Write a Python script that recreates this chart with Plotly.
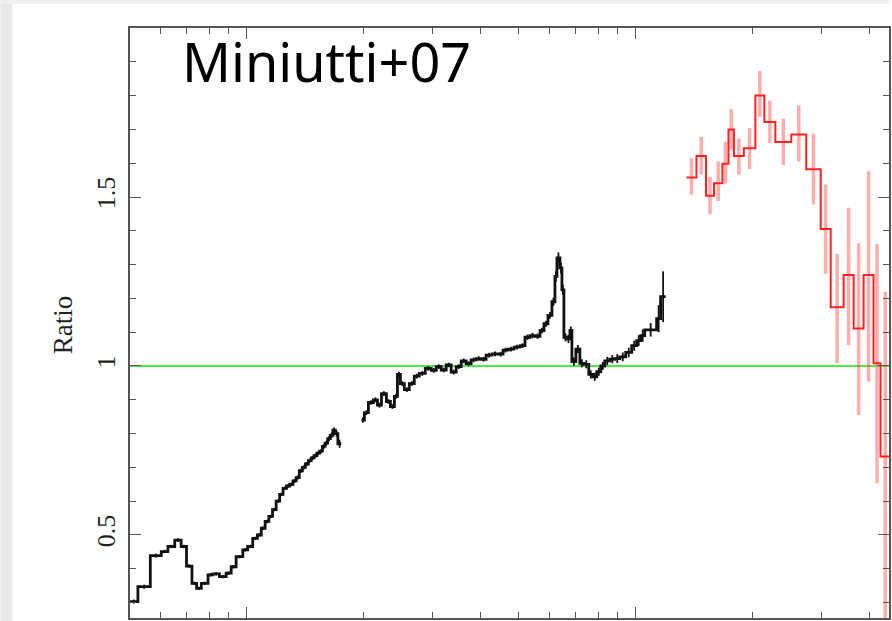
import math
import plotly.graph_objects as go

# ---------------- data ----------------
# XIS (black) segment 1: bin edges in keV and ratio values
seg1_edges = [0.50, 0.525, 0.565, 0.603, 0.627, 0.653, 0.678, 0.70, 0.723, 0.743,
              0.764, 0.795, 0.818, 0.851, 0.885, 0.912, 0.939, 0.977, 1.005, 1.036,
              1.065, 1.09, 1.115, 1.14, 1.165, 1.19, 1.215, 1.24, 1.265, 1.29,
              1.315, 1.34, 1.365, 1.39, 1.415, 1.44, 1.465, 1.49, 1.515, 1.54,
              1.565, 1.59, 1.615, 1.64, 1.665, 1.69, 1.715, 1.75]
seg1_ratio = [0.303, 0.347, 0.439, 0.451, 0.466, 0.485, 0.466, 0.408, 0.357, 0.342,
              0.357, 0.382, 0.385, 0.377, 0.387, 0.406, 0.436, 0.456, 0.466, 0.49,
              0.50, 0.52, 0.54, 0.555, 0.575, 0.60, 0.62, 0.638, 0.645, 0.65,
              0.66, 0.67, 0.69, 0.70, 0.71, 0.72, 0.728, 0.735, 0.742, 0.748,
              0.762, 0.772, 0.785, 0.795, 0.81, 0.80, 0.77]
seg1_err = [0.006, 0.006, 0.006, 0.005, 0.005, 0.005, 0.005, 0.005, 0.005, 0.005,
            0.005, 0.005, 0.005, 0.005, 0.005, 0.005, 0.005, 0.005, 0.005, 0.005,
            0.005, 0.005, 0.005, 0.005, 0.005, 0.005, 0.005, 0.005, 0.005, 0.005,
            0.006, 0.006, 0.006, 0.006, 0.006, 0.006, 0.006, 0.006, 0.006, 0.006,
            0.007, 0.007, 0.007, 0.008, 0.008, 0.009, 0.012]

# XIS (black) segment 2
seg2_edges = [1.972, 2.007, 2.055, 2.117, 2.168, 2.220, 2.286, 2.341, 2.397, 2.440,
              2.483, 2.542, 2.618, 2.696, 2.777, 2.877, 2.981, 3.070, 3.162, 3.257,
              3.354, 3.455, 3.559, 3.665, 3.775, 3.889, 4.005, 4.125, 4.274, 4.428,
              4.561, 4.697, 4.867, 5.042, 5.193, 5.350, 5.510, 5.675, 5.811, 5.949,
              6.091, 6.200, 6.274, 6.386, 6.462, 6.538, 6.655, 6.774, 6.855, 7.018,
              7.185, 7.356, 7.576, 7.757, 7.943, 8.133, 8.326, 8.577, 8.835, 9.100,
              9.427, 9.766, 10.06, 10.30, 10.55, 11.32, 11.59, 11.94]
seg2_ratio = [0.84, 0.862, 0.892, 0.90, 0.884, 0.918, 0.895, 0.88, 0.91, 0.975,
              0.948, 0.93, 0.948, 0.97, 0.978, 0.993, 0.987, 0.998, 0.988, 1.003,
              0.982, 0.998, 1.015, 1.007, 1.018, 1.022, 1.02, 1.032, 1.036, 1.035,
              1.047, 1.05, 1.056, 1.06, 1.085, 1.09, 1.088, 1.105, 1.125, 1.15,
              1.19, 1.265, 1.32, 1.29, 1.225, 1.085, 1.08, 1.105, 1.013, 1.05,
              1.008, 1.005, 0.975, 0.968, 0.983, 1.0, 1.015, 1.02, 1.022, 1.027,
              1.04, 1.06, 1.075, 1.09, 1.107, 1.14, 1.205]
seg2_err = [0.008, 0.007, 0.007, 0.007, 0.007, 0.007, 0.007, 0.007, 0.007, 0.008,
            0.007, 0.007, 0.007, 0.007, 0.007, 0.007, 0.007, 0.007, 0.007, 0.007,
            0.007, 0.007, 0.007, 0.007, 0.007, 0.007, 0.007, 0.007, 0.007, 0.007,
            0.007, 0.007, 0.007, 0.007, 0.008, 0.008, 0.008, 0.008, 0.009, 0.01,
            0.012, 0.015, 0.016, 0.016, 0.015, 0.012, 0.012, 0.012, 0.012, 0.012,
            0.012, 0.012, 0.012, 0.012, 0.012, 0.012, 0.012, 0.012, 0.013, 0.013,
            0.014, 0.015, 0.016, 0.018, 0.02, 0.04, 0.075]

# PIN (red) data
red_edges = [13.51, 14.33, 15.16, 15.90, 16.71, 17.32, 17.89, 18.97, 20.31, 21.42,
             22.86, 25.12, 27.45, 29.90, 31.72, 34.24, 36.34, 38.54, 40.88, 42.61, 45.07]
red_ratio = [1.558, 1.621, 1.504, 1.541, 1.598, 1.700, 1.621, 1.644, 1.800, 1.722,
             1.663, 1.685, 1.582, 1.405, 1.174, 1.269, 1.111, 1.269, 1.008, 0.732]
red_hi = [1.615, 1.678, 1.56, 1.605, 1.663, 1.76, 1.673, 1.704, 1.873, 1.785,
          1.732, 1.771, 1.688, 1.537, 1.332, 1.468, 1.363, 1.576, 1.361, 1.22]
red_lo = [1.507, 1.566, 1.449, 1.488, 1.54, 1.64, 1.566, 1.583, 1.737, 1.659,
          1.595, 1.605, 1.478, 1.273, 1.008, 1.062, 0.855, 0.954, 0.653, 0.1]

model_ratio = 1.0
x_range_kev = [0.501, 44.8]
y_range = [0.2544, 2.0]
y_major = [0.5, 1, 1.5]
y_major_text = ["0.5", "1", "1.5"]
y_minor = [0.3, 0.4, 0.6, 0.7, 0.8, 0.9, 1.1, 1.2, 1.3, 1.4, 1.6, 1.7, 1.8, 1.9]
x_major = [1, 10]
x_minor = [0.6, 0.7, 0.8, 0.9, 2, 3, 4, 5, 6, 7, 8, 9, 20, 30, 40]
title_text = "Miniutti+07"
ylabel_text = "Ratio"

# ---------------- figure ----------------
W, H = 892, 621
ML, MR, MT, MB = 130, 1, 28, 3
PW, PH = W - ML - MR, H - MT - MB


def centers(edges):
    return [math.sqrt(edges[i] * edges[i + 1]) for i in range(len(edges) - 1)]


fig = go.Figure()

# model line
fig.add_trace(go.Scatter(x=x_range_kev, y=[model_ratio, model_ratio], mode="lines",
                         line=dict(color="#44ee44", width=2), hoverinfo="skip"))

# red error bars
fig.add_trace(go.Scatter(
    x=centers(red_edges), y=red_ratio, mode="markers",
    marker=dict(size=1, color="rgba(0,0,0,0)"),
    error_y=dict(type="data", symmetric=False,
                 array=[h - v for h, v in zip(red_hi, red_ratio)],
                 arrayminus=[v - l for l, v in zip(red_lo, red_ratio)],
                 color="rgba(255,60,60,0.42)", thickness=3.5, width=0)))
# red step line
fig.add_trace(go.Scatter(x=red_edges, y=red_ratio + [red_ratio[-1]], mode="lines",
                         line=dict(color="#ff2020", width=2, shape="hv")))

# black segments
for edges, vals, errs in [(seg1_edges, seg1_ratio, seg1_err), (seg2_edges, seg2_ratio, seg2_err)]:
    fig.add_trace(go.Scatter(
        x=centers(edges), y=vals, mode="markers",
        marker=dict(size=1, color="rgba(0,0,0,0)"),
        error_y=dict(type="data", array=errs, color="#111111", thickness=1.8, width=0)))
    fig.add_trace(go.Scatter(x=edges, y=vals + [vals[-1]], mode="lines",
                             line=dict(color="#111111", width=2.8, shape="hv")))

axis_common = dict(showline=True, linecolor="#555555", linewidth=1.5, mirror="ticks",
                   ticks="inside", tickcolor="#555555", tickwidth=1.3, ticklen=11,
                   showgrid=False, zeroline=False)

fig.update_xaxes(type="log", range=[math.log10(x_range_kev[0]), math.log10(x_range_kev[1])],
                 tickmode="array", tickvals=x_major, showticklabels=False,
                 minor=dict(tickvals=x_minor, ticks="inside", ticklen=6, tickwidth=1.3,
                            tickcolor="#555555", showgrid=False),
                 **axis_common)
fig.update_yaxes(range=y_range, tickmode="array", tickvals=y_major, ticktext=y_major_text,
                 tickangle=-90, ticklabelstandoff=3,
                 tickfont=dict(family="Liberation Serif", size=26, color="#222222"),
                 minor=dict(tickvals=y_minor, ticks="inside", ticklen=6, tickwidth=1.3,
                            tickcolor="#555555", showgrid=False),
                 **axis_common)

# page background strips
shapes = [
    dict(type="rect", xref="paper", yref="paper", layer="below",
         x0=-ML / PW, x1=(12 - ML) / PW, y0=-MB / PH, y1=1 + MT / PH,
         fillcolor="#e8e8e8", line=dict(width=0)),
    dict(type="rect", xref="paper", yref="paper", layer="below",
         x0=-ML / PW, x1=1 + MR / PW, y0=1 + (MT - 4) / PH, y1=1 + MT / PH,
         fillcolor="#f0f0f0", line=dict(width=0)),
]

annotations = [
    dict(text=title_text, xref="paper", yref="paper", x=(180 - ML) / PW, y=1 - (61 - MT) / PH,
         xanchor="left", yanchor="middle", showarrow=False,
         font=dict(family="Noto Sans", size=54, color="#000000")),
    dict(text=ylabel_text, xref="paper", yref="paper", x=(63 - ML) / PW, y=1 - (325 - MT) / PH,
         xanchor="center", yanchor="middle", showarrow=False, textangle=-90,
         font=dict(family="Liberation Serif", size=27, color="#222222")),
]

fig.update_layout(width=W, height=H, margin=dict(l=ML, r=MR, t=MT, b=MB, pad=0),
                  paper_bgcolor="#ffffff", plot_bgcolor="#ffffff", showlegend=False,
                  shapes=shapes, annotations=annotations)

fig.write_html("out.html")
